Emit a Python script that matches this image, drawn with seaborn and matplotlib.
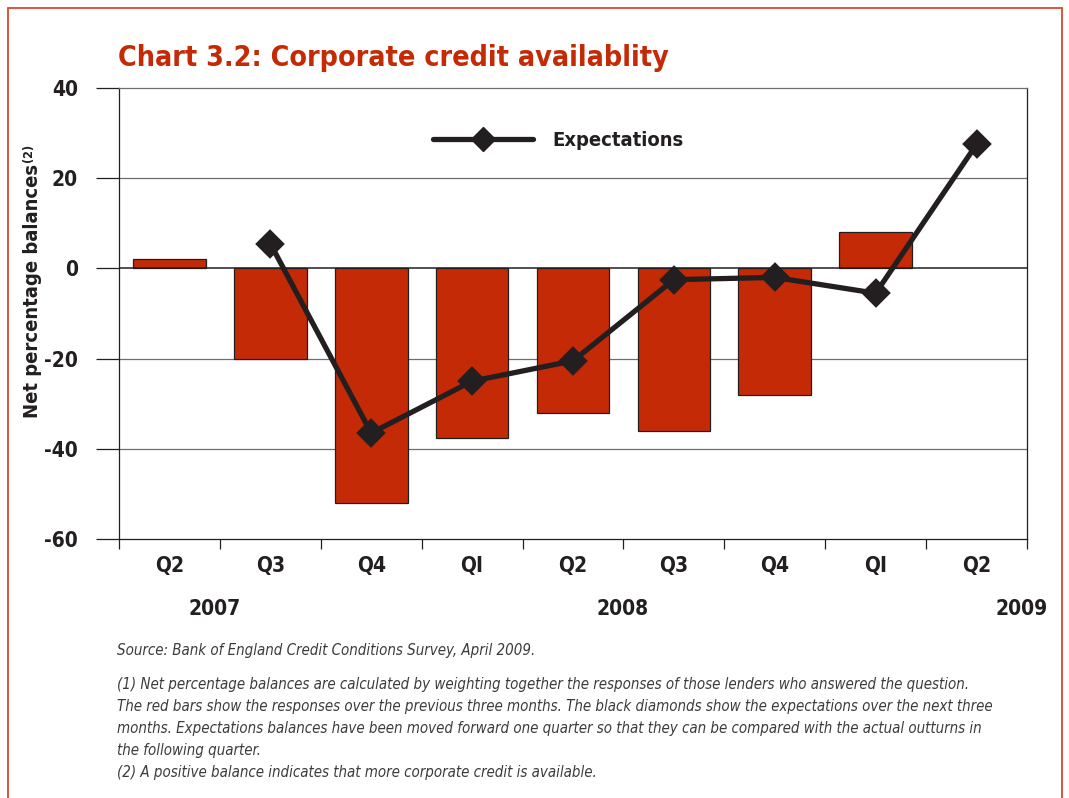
import matplotlib
matplotlib.use("Agg")
import matplotlib.pyplot as plt
from matplotlib.lines import Line2D
from matplotlib.patches import Rectangle
import seaborn as sns
import pandas as pd
import numpy as np

# ---- data ----
quarters = ["Q2 2007", "Q3 2007", "Q4 2007", "Q1 2008", "Q2 2008",
            "Q3 2008", "Q4 2008", "Q1 2009", "Q2 2009"]
quarter_labels = ["Q2", "Q3", "Q4", "QI", "Q2", "Q3", "Q4", "QI", "Q2"]
bars = [2, -20, -52, -37.5, -32, -36, -28, 8, np.nan]
expectations = [np.nan, 5.5, -36.5, -25, -20.5, -2.5, -2, -5.5, 27.5]
years = ["2007", "2008", "2009"]
y_ticks = [40, 20, 0, -20, -40, -60]

W, H = 1069, 798
RED = "#c42a06"
DARK = "#231f20"

sns.set_theme(style="white")
plt.rcParams['font.family'] = ['DejaVu Sans']
plt.rcParams['font.stretch'] = 'condensed'

fig = plt.figure(figsize=(W / 100, H / 100), dpi=100)
fig.patch.set_facecolor("white")

def fx(px):
    return px / W

def fy(py):
    return 1 - py / H

ax = fig.add_axes([fx(119), fy(539), fx(1027) - fx(119), fy(88) - fy(539)])

df = pd.DataFrame({"quarter": quarters, "bars": bars, "exp": expectations})

sns.barplot(data=df.dropna(subset=["bars"]), x="quarter", y="bars", order=quarters,
            color=RED, saturation=1, edgecolor=DARK, linewidth=0.9, width=0.72,
            ax=ax, zorder=3)
sns.pointplot(data=df.dropna(subset=["exp"]), x="quarter", y="exp", order=quarters,
              color=DARK, markers="D", linestyles="-", markersize=12.5,
              linewidth=3.8, ax=ax, zorder=5)

ax.set_xlim(-0.5, len(quarters) - 0.5)
ax.set_ylim(-60, 40)
ax.set_xlabel("")
ax.set_ylabel("")

BOLD = dict(fontweight="bold", fontstretch="condensed", color=DARK)

# y axis
ax.set_yticks(y_ticks)
ax.set_yticklabels([str(v) for v in y_ticks], fontsize=15, **BOLD)
ax.tick_params(axis="y", which="major", direction="out", length=16.5, width=0.9,
               color=DARK, pad=13, left=True)
for v in [20, -20, -40]:
    ax.axhline(v, color="#6d6e71", lw=0.9, zorder=1)
ax.axhline(0, color=DARK, lw=1.1, zorder=4)

# x axis: boundary ticks, centered labels
ax.set_xticks(np.arange(-0.5, len(quarters), 1.0))
ax.set_xticklabels([])
ax.tick_params(axis="x", which="major", direction="out", length=7.5, width=0.9,
               color=DARK, bottom=True)
ax.set_xticks(np.arange(len(quarters)), minor=True)
ax.set_xticklabels(quarter_labels, minor=True, fontsize=15, **BOLD)
ax.tick_params(axis="x", which="minor", length=0, pad=12)

for s in ax.spines.values():
    s.set_visible(True)
    s.set_color(DARK)
    s.set_linewidth(0.9)
ax.spines["top"].set_color("#6d6e71")
ax.grid(False)

# legend
handle = Line2D([0], [0], color=DARK, lw=3.8, marker="D", markersize=12.5)
leg = ax.legend([handle], ["Expectations"], loc="center left",
                bbox_to_anchor=(fx(433), fy(141)), bbox_transform=fig.transFigure,
                frameon=False, borderpad=0, borderaxespad=0,
                handlelength=4.95, handletextpad=0.97,
                prop={"family": "DejaVu Sans", "weight": "bold", "size": 14.5,
                      "stretch": "condensed"})
for t in leg.get_texts():
    t.set_color(DARK)

# title
fig.text(fx(118), fy(58), "Chart 3.2: Corporate credit availablity", color=RED,
         fontsize=20.5, fontweight="bold", fontstretch="condensed", ha="left", va="center")

# y label
fig.text(fx(33), fy(291), "Net percentage balances", rotation=90, fontsize=14.5,
         ha="center", va="center", **BOLD)
fig.text(fx(29), fy(153), "(2)", rotation=90, fontsize=9, ha="center", va="center", **BOLD)

# years
for label, xp in zip(years, [215, 623, 1022]):
    fig.text(fx(xp), fy(609), label, fontsize=15, ha="center", va="center", **BOLD)

# footnotes
notes = [
    (651, "Source: Bank of England Credit Conditions Survey, April 2009."),
    (685, "(1) Net percentage balances are calculated by weighting together the responses of those lenders who answered the question."),
    (706, "The red bars show the responses over the previous three months. The black diamonds show the expectations over the next three"),
    (728, "months. Expectations balances have been moved forward one quarter so that they can be compared with the actual outturns in"),
    (750, "the following quarter."),
    (773, "(2) A positive balance indicates that more corporate credit is available."),
]
for yp, txt in notes:
    fig.text(fx(117), fy(yp), txt, fontsize=10.8, style="italic", color="#3c3c3c",
             fontstretch="condensed", ha="left", va="center")

# red page border
fig.patches.append(Rectangle((fx(8), fy(820)), fx(1062) - fx(8), fy(8) - fy(820),
                             transform=fig.transFigure, fill=False,
                             edgecolor="#d9482b", lw=1.3, zorder=0))

fig.savefig("out.png", dpi=100)
